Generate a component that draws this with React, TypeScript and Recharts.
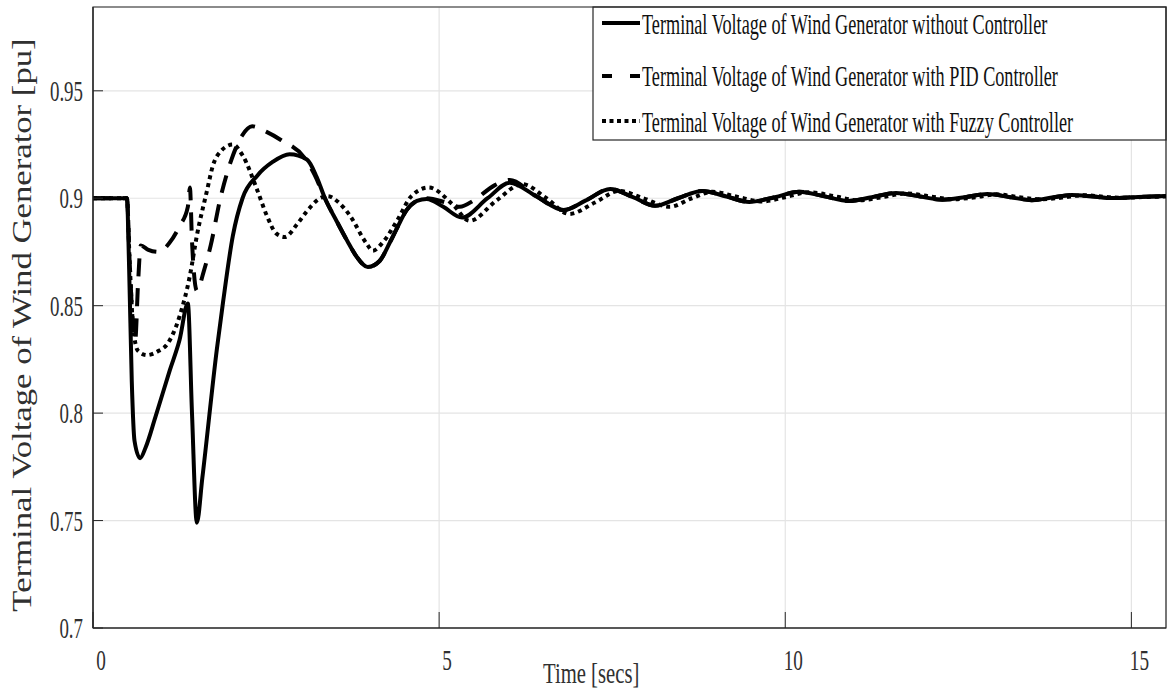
import React from 'react';
import {
  LineChart,
  Line,
  XAxis,
  YAxis,
  CartesianGrid,
  ReferenceArea,
  Customized,
} from 'recharts';

// Time samples [s] and terminal voltage [pu] for each case
const tWithout = [0, 0.49, 0.52, 0.56, 0.6, 0.68, 0.76, 0.9, 1.11, 1.25, 1.37, 1.43, 1.5, 1.58, 1.79, 1.88, 2.02, 2.16, 2.37, 2.6, 2.84, 3.09, 3.23, 3.35, 3.52, 3.67, 3.81, 3.97, 4.14, 4.29, 4.39, 4.53, 4.68, 4.82, 5.06, 5.33, 5.7, 6.02, 6.4, 6.8, 7.12, 7.47, 7.8, 8.12, 8.45, 8.8, 9.15, 9.48, 9.85, 10.2, 10.55, 10.92, 11.25, 11.6, 11.95, 12.27, 12.6, 12.92, 13.25, 13.56, 13.85, 14.14, 14.45, 14.72, 15.1, 15.5];
const vWithout = [0.9, 0.9, 0.87, 0.815, 0.787, 0.779, 0.784, 0.798, 0.82, 0.834, 0.851, 0.8, 0.749, 0.77, 0.83, 0.852, 0.8825, 0.9, 0.9104, 0.917, 0.9205, 0.918, 0.91, 0.9, 0.8893, 0.8803, 0.8727, 0.868, 0.8708, 0.8795, 0.886, 0.8945, 0.8988, 0.8997, 0.896, 0.891, 0.9, 0.9072, 0.901, 0.8945, 0.899, 0.9043, 0.9005, 0.8965, 0.9, 0.9034, 0.9008, 0.8983, 0.9005, 0.903, 0.901, 0.8987, 0.9005, 0.9024, 0.9008, 0.8993, 0.9005, 0.902, 0.9005, 0.8991, 0.9003, 0.9015, 0.9008, 0.9001, 0.9006, 0.901];

const tPid = [0, 0.49, 0.53, 0.58, 0.61, 0.65, 0.69, 0.8, 0.95, 1.1, 1.25, 1.37, 1.4, 1.43, 1.5, 1.6, 1.7, 1.84, 2.0, 2.15, 2.3, 2.5, 2.72, 3.05, 3.2, 3.35, 3.52, 3.67, 3.81, 3.97, 4.14, 4.29, 4.39, 4.53, 4.68, 4.82, 5.1, 5.3, 5.5, 5.8, 6.02, 6.4, 6.8, 7.12, 7.47, 7.8, 8.12, 8.45, 8.8, 9.15, 9.48, 9.85, 10.2, 10.55, 10.92, 11.25, 11.6, 11.95, 12.27, 12.6, 12.92, 13.25, 13.56, 13.85, 14.14, 14.45, 14.72, 15.1, 15.5];
const vPid = [0.9, 0.9, 0.87, 0.84, 0.834, 0.86, 0.878, 0.876, 0.875, 0.879, 0.887, 0.896, 0.905, 0.88, 0.857, 0.866, 0.878, 0.9, 0.918, 0.929, 0.9335, 0.931, 0.927, 0.919, 0.911, 0.9, 0.8893, 0.8803, 0.8727, 0.868, 0.8708, 0.8795, 0.886, 0.8945, 0.8988, 0.9, 0.898, 0.896, 0.899, 0.906, 0.9085, 0.901, 0.8945, 0.899, 0.9043, 0.9005, 0.8965, 0.9, 0.9034, 0.9008, 0.8983, 0.9005, 0.903, 0.901, 0.8987, 0.9005, 0.9024, 0.9008, 0.8993, 0.9005, 0.902, 0.9005, 0.8991, 0.9003, 0.9015, 0.9008, 0.9001, 0.9006, 0.901];

const tFuzzy = [0, 0.49, 0.53, 0.58, 0.65, 0.78, 0.95, 1.07, 1.25, 1.4, 1.5, 1.65, 1.73, 1.85, 2.02, 2.16, 2.37, 2.51, 2.65, 2.77, 2.95, 3.09, 3.28, 3.39, 3.55, 3.71, 3.95, 4.04, 4.2, 4.4, 4.6, 4.85, 5.2, 5.44, 5.83, 6.2, 6.55, 6.88, 7.25, 7.6, 7.95, 8.33, 8.65, 8.95, 9.3, 9.67, 10.0, 10.35, 10.7, 11.07, 11.4, 11.75, 12.1, 12.42, 12.75, 13.05, 13.38, 13.7, 14.0, 14.3, 14.6, 14.87, 15.2, 15.5];
const vFuzzy = [0.9, 0.9, 0.87, 0.84, 0.829, 0.827, 0.829, 0.832, 0.845, 0.864, 0.8825, 0.904, 0.915, 0.922, 0.925, 0.92, 0.904, 0.892, 0.8835, 0.882, 0.888, 0.894, 0.9, 0.901, 0.898, 0.892, 0.879, 0.8756, 0.88, 0.89, 0.901, 0.905, 0.897, 0.8895, 0.899, 0.9066, 0.9, 0.8927, 0.898, 0.9034, 0.9, 0.896, 0.9, 0.903, 0.9007, 0.8985, 0.9005, 0.9028, 0.901, 0.899, 0.9005, 0.9022, 0.9008, 0.8995, 0.9005, 0.9018, 0.9005, 0.8995, 0.9003, 0.9014, 0.9007, 0.9002, 0.9006, 0.9008];

const timeTicks = [0, 5, 10, 15];
const timeTickLabels = ['0', '5', '10', '15'];
const voltTicks = [0.7, 0.75, 0.8, 0.85, 0.9, 0.95];
const voltTickLabels = ['0.7', '0.75', '0.8', '0.85', '0.9', '0.95'];

const seriesNames = [
  'Terminal Voltage of Wind Generator without Controller',
  'Terminal Voltage of Wind Generator with PID Controller',
  'Terminal Voltage of Wind Generator with Fuzzy Controller',
];

const toPoints = (ts: number[], vs: number[]) => ts.map((t, i) => ({ t, v: vs[i] }));
const withoutData = toPoints(tWithout, vWithout);
const pidData = toPoints(tPid, vPid);
const fuzzyData = toPoints(tFuzzy, vFuzzy);

const FONT = '"Liberation Serif", "Times New Roman", serif';
const AXIS = '#262626';
const TEXT = '#303030';

const W = 1167;
const H = 700;
const PLOT_LEFT = 93;
const PLOT_TOP = 7;
const PLOT_BOTTOM = 628;
const PLOT_RIGHT = 1166;

// Narrow serif text: horizontally compressed glyphs
function SqText(props: {
  x: number;
  y: number;
  sx: number;
  anchor?: 'start' | 'middle' | 'end';
  size?: number;
  fill?: string;
  children: React.ReactNode;
}) {
  const { x, y, sx, anchor = 'start', size = 30, fill = TEXT, children } = props;
  return (
    <text
      transform={`translate(${x},${y}) scale(${sx},1)`}
      textAnchor={anchor}
      fontFamily={FONT}
      fontSize={size}
      fill={fill}
    >
      {children}
    </text>
  );
}

function YTick(props: any) {
  const { y, payload } = props;
  const idx = voltTicks.findIndex((v) => Math.abs(v - payload.value) < 1e-9);
  const label = idx >= 0 ? voltTickLabels[idx] : String(payload.value);
  return (
    <g>
      <line x1={PLOT_LEFT} x2={PLOT_LEFT + 10} y1={y} y2={y} stroke={AXIS} strokeWidth={1} />
      <SqText x={83} y={y + 10} sx={0.63} anchor="end">
        {label}
      </SqText>
    </g>
  );
}

function XTick(props: any) {
  const { x, payload } = props;
  const idx = timeTicks.indexOf(payload.value);
  const label = idx >= 0 ? timeTickLabels[idx] : String(payload.value);
  return (
    <g>
      <line x1={x} x2={x} y1={PLOT_BOTTOM} y2={PLOT_BOTTOM - 16} stroke={AXIS} strokeWidth={1} />
      <SqText x={x + 8} y={670} sx={0.64} anchor="middle">
        {label}
      </SqText>
    </g>
  );
}

const legendRows = [
  { baseline: 34, lineY: 23, dash: undefined as string | undefined },
  { baseline: 86, lineY: 76, dash: '10 18' },
  { baseline: 132, lineY: 121, dash: '4 3.5' },
];

function LegendBox() {
  return (
    <g>
      <rect x={593} y={PLOT_TOP} width={PLOT_RIGHT - 593} height={133} fill="#fff" stroke={AXIS} strokeWidth={1.2} />
      {legendRows.map((r, i) => (
        <g key={i}>
          <line x1={602} x2={640} y1={r.lineY} y2={r.lineY} stroke="#000" strokeWidth={4} strokeDasharray={r.dash} />
          <SqText x={642} y={r.baseline} sx={0.607} fill="#111">
            {seriesNames[i]}
          </SqText>
        </g>
      ))}
    </g>
  );
}

function AxisTitles() {
  return (
    <g>
      <SqText x={543} y={683} sx={0.69}>
        Time [secs]
      </SqText>
      <text
        transform="translate(31, 325) rotate(-90) scale(1.24,1)"
        textAnchor="middle"
        fontFamily={FONT}
        fontSize={28}
        fill={TEXT}
      >
        Terminal Voltage of Wind Generator [pu]
      </text>
    </g>
  );
}

export default function App() {
  return (
    <div style={{ position: 'absolute', left: 0, top: 0, width: W, height: H, background: '#fff' }}>
      <LineChart
        width={W}
        height={H}
        margin={{ top: PLOT_TOP, right: W - PLOT_RIGHT, bottom: 0, left: 0 }}
      >
        <CartesianGrid stroke="#e4e4e4" strokeWidth={1.2} />
        <XAxis
          type="number"
          dataKey="t"
          domain={[0, 15.5]}
          ticks={timeTicks}
          allowDataOverflow
          height={H - PLOT_BOTTOM}
          tickSize={0}
          tickLine={false}
          tick={<XTick />}
          axisLine={{ stroke: AXIS, strokeWidth: 1.2 }}
          interval={0}
        />
        <YAxis
          type="number"
          domain={[0.7, 0.989]}
          ticks={voltTicks}
          allowDataOverflow
          width={PLOT_LEFT}
          tickSize={0}
          tickLine={false}
          tick={<YTick />}
          axisLine={{ stroke: AXIS, strokeWidth: 1.2 }}
          interval={0}
        />
        <ReferenceArea x1={0} x2={15.5} y1={0.7} y2={0.989} fill="none" stroke={AXIS} strokeWidth={1.2} ifOverflow="visible" />
        <Line
          data={withoutData}
          dataKey="v"
          type="monotone"
          stroke="#000"
          strokeWidth={4}
          dot={false}
          isAnimationActive={false}
        />
        <Line
          data={pidData}
          dataKey="v"
          type="monotone"
          stroke="#000"
          strokeWidth={4}
          strokeDasharray="18 12"
          dot={false}
          isAnimationActive={false}
        />
        <Line
          data={fuzzyData}
          dataKey="v"
          type="monotone"
          stroke="#000"
          strokeWidth={4}
          strokeDasharray="4 4"
          dot={false}
          isAnimationActive={false}
        />
        <Customized component={LegendBox} />
        <Customized component={AxisTitles} />
      </LineChart>
    </div>
  );
}
